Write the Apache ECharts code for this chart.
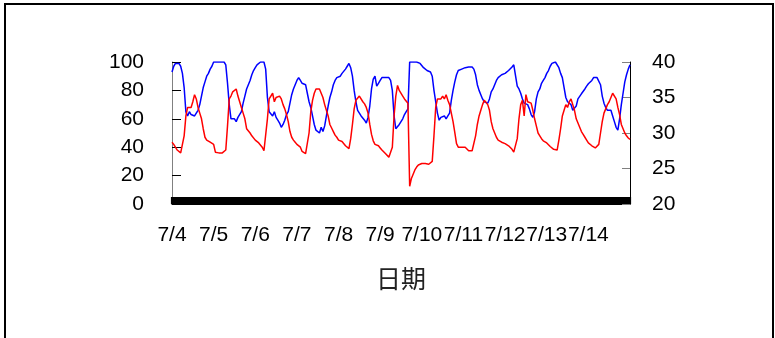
<!DOCTYPE html>
<html>
<head>
<meta charset="utf-8">
<script src="https://cdn.jsdelivr.net/npm/echarts@6/dist/echarts.min.js"></script>
<style>
  html, body { margin: 0; padding: 0; background: #fff; }
  #chart { width: 775px; height: 338px; }
</style>
</head>
<body>
<div id="chart"></div>
<script>
// Day labels for the x axis (one tick label per midnight)
const dayLabels = ['7/4', '7/5', '7/6', '7/7', '7/8', '7/9', '7/10', '7/11', '7/12', '7/13', '7/14'];
const hoursPerDay = 24;

// Hourly relative humidity (%), 7/4 00:00 .. 7/15 00:00
const humidity = [
  93, 97, 99, 98, 99, 97, 92, 82, 65, 62, 65, 63, 64, 62, 64, 66, 70, 76, 82, 86, 90, 92, 95, 97,
  100, 100, 100, 100, 100, 100, 100, 98, 85, 70, 60, 59, 60, 58, 61, 60, 65, 71, 76, 81, 84, 87, 91, 94,
  96, 98, 99, 100, 100, 100, 95, 75, 65, 64, 62, 65, 61, 59, 57, 54, 56, 59, 63, 65, 71, 77, 81, 84,
  87, 89, 87, 85, 85, 84, 78, 72, 68, 62, 56, 52, 51, 50, 54, 51, 55, 62, 69, 75, 79, 84, 87, 89,
  89.5, 90, 92, 93, 95, 97, 99, 96, 90, 80, 72, 66, 64, 62, 61, 59, 57, 61, 69, 81, 88, 90, 83, 85,
  87, 89, 88, 89, 88, 89, 87, 80, 62, 53, 54, 56, 58, 60, 63, 65, 67, 100, 100, 100, 100, 100, 100, 99,
  98, 96, 95, 94, 95, 93, 90, 80, 72, 64, 59, 61, 60, 62, 60, 62, 64, 73, 80, 86, 91, 94, 95, 95,
  95.5, 96, 96.5, 96.5, 96.5, 96.5, 95, 91, 84, 80, 77, 74, 72, 71, 71, 74, 79, 81, 84, 87, 89, 89, 91, 91,
  92, 93, 94, 95, 96.5, 98, 98, 83, 81, 78, 74, 71, 71, 70, 67, 63, 61, 65, 74, 79, 81, 85, 87, 89,
  92, 94, 97, 99, 100, 100, 100, 96, 92, 89, 82, 75, 72, 71, 70, 66, 65, 69, 74, 75, 77.6, 78.5, 81, 83,
  84.7, 85, 87, 89, 88.5, 89, 89, 84, 76, 71, 68, 66, 66, 66, 62, 58, 54, 52, 60, 70, 78, 86, 91, 95,
  98
];

// Hourly air temperature (°C), same time steps
const temperature = [
  28.7, 28.4, 28.2, 27.6, 27.4, 27.2, 27.4, 29.6, 32.4, 33.6, 33.8, 33.6, 34.4, 35.4, 34.8, 33.6, 32.8, 32.0, 30.6, 29.4, 29.0, 28.8, 28.7, 28.6,
  28.4, 27.3, 27.2, 27.2, 27.2, 27.2, 27.3, 27.6, 31.0, 34.8, 35.2, 35.8, 36.0, 36.2, 35.2, 34.4, 33.6, 32.8, 32.0, 30.6, 30.4, 30.0, 29.6, 29.4,
  29.0, 28.8, 28.6, 28.4, 28.0, 27.5, 27.5, 32.0, 34.8, 34.6, 35.6, 34.4, 35.0, 35.2, 35.2, 34.8, 34.0, 33.4, 32.6, 31.6, 30.2, 29.4, 29.0, 28.7,
  28.4, 28.2, 28.0, 27.4, 27.2, 27.1, 27.1, 30.0, 33.0, 34.6, 35.6, 36.2, 36.4, 36.2, 35.6, 35.0, 34.0, 33.2, 32.4, 31.2, 30.7, 30.2, 29.7, 29.4,
  29.0, 28.9, 28.8, 28.6, 28.2, 28.0, 27.8, 29.2, 31.2, 33.4, 34.6, 34.6, 35.2, 35.0, 34.4, 34.1, 33.6, 32.8, 31.2, 29.8, 28.9, 28.4, 28.4, 28.2,
  27.9, 27.6, 27.4, 27.1, 26.9, 26.6, 26.5, 28.0, 32.4, 35.2, 36.7, 36.0, 35.8, 35.2, 34.8, 34.6, 34.2, 22.5, 23.6, 24.2, 24.8, 25.2, 25.5, 25.6,
  25.7, 25.7, 25.7, 25.7, 25.6, 25.6, 26.0, 29.6, 33.6, 34.8, 35.0, 34.8, 35.2, 34.8, 35.4, 34.6, 34.0, 32.8, 31.6, 30.1, 28.5, 28.0, 28.0, 28.0,
  28.0, 28.0, 28.1, 27.5, 27.5, 27.5, 27.5, 29.6, 31.2, 32.4, 33.2, 34.0, 34.6, 34.4, 34.0, 33.2, 31.6, 30.6, 30.0, 29.4, 29.0, 28.8, 28.7, 28.5,
  28.5, 28.4, 28.2, 28.0, 27.7, 27.3, 27.2, 29.2, 32.0, 34.0, 34.6, 32.4, 35.4, 34.4, 34.6, 34.2, 33.2, 32.0, 31.0, 30.0, 29.6, 29.2, 28.9, 28.7,
  28.6, 28.4, 28.1, 27.9, 27.7, 27.5, 27.6, 29.0, 30.6, 32.4, 33.2, 34.0, 33.6, 34.4, 34.8, 34.0, 33.2, 32.0, 31.4, 30.8, 30.2, 29.8, 29.4, 29.0,
  28.6, 28.4, 28.2, 28.0, 27.9, 27.9, 28.4, 30.0, 31.6, 32.8, 33.4, 34.0, 34.4, 35.0, 35.6, 35.6, 34.8, 33.6, 32.6, 31.2, 30.6, 30.0, 29.6, 29.3,
  29.1
];

// One category per hour step
const hours = humidity.map((_, i) => String(i));

const FONT = '"Liberation Sans", Arial, sans-serif';

const chart = echarts.init(document.getElementById('chart'), null, { renderer: 'canvas' });

chart.setOption({
  animation: false,
  backgroundColor: '#ffffff',
  graphic: [{
    type: 'rect',
    shape: { x: 5, y: 4, width: 768, height: 400 },
    style: { fill: 'none', stroke: '#000', lineWidth: 2 },
    silent: true
  }],
  grid: { left: 172, right: 145, top: 62, bottom: 134, containLabel: false },
  xAxis: {
    type: 'category',
    data: hours,
    boundaryGap: false,
    name: '日期',
    nameLocation: 'middle',
    nameGap: 62,
    nameTextStyle: { fontFamily: '"Noto Sans CJK SC", sans-serif', fontSize: 25, color: '#222' },
    axisLine: { lineStyle: { color: '#000', width: 1 } },
    axisTick: {
      inside: true, length: 7, interval: 0,
      lineStyle: { color: '#000', width: 2.2 }
    },
    axisLabel: {
      interval: (i) => i % hoursPerDay === 0 && i / hoursPerDay < dayLabels.length,
      formatter: (v) => dayLabels[Number(v) / hoursPerDay] || '',
      fontFamily: FONT, fontSize: 21, color: '#000', margin: 21
    },
    splitLine: { show: false }
  },
  yAxis: [{
    type: 'value',
    min: 0, max: 100, interval: 20,
    axisLine: { show: true, lineStyle: { color: '#808080', width: 1 } },
    axisTick: { show: true, inside: true, length: 9, lineStyle: { color: '#000' } },
    axisLabel: { fontFamily: FONT, fontSize: 21, color: '#000', margin: 28 },
    splitLine: { show: false }
  }, {
    type: 'value',
    min: 20, max: 40, interval: 5,
    position: 'right',
    axisLine: { show: true, lineStyle: { color: '#000', width: 1 } },
    axisTick: { show: true, inside: true, length: 8, lineStyle: { color: '#808080' } },
    axisLabel: { fontFamily: FONT, fontSize: 21, color: '#000', margin: 22 },
    splitLine: { show: false }
  }],
  series: [{
    name: '湿度',
    type: 'line',
    yAxisIndex: 0,
    data: humidity,
    showSymbol: false,
    lineStyle: { color: '#0000ff', width: 1.5 },
    itemStyle: { color: '#0000ff' }
  }, {
    name: '温度',
    type: 'line',
    yAxisIndex: 1,
    data: temperature,
    showSymbol: false,
    lineStyle: { color: '#ff0000', width: 1.5 },
    itemStyle: { color: '#ff0000' }
  }]
});
</script>
</body>
</html>
